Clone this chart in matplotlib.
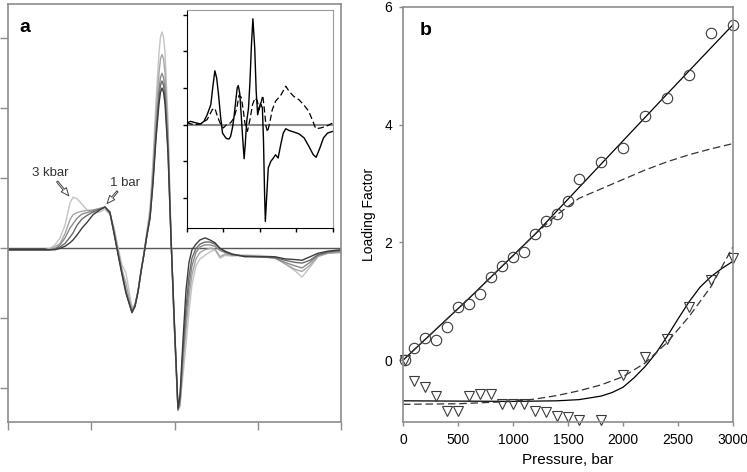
import numpy as np
import matplotlib
matplotlib.use("Agg")
import matplotlib.pyplot as plt

plt.rcParams['font.family'] = ['Liberation Sans', 'DejaVu Sans']

# ---- panel a : spectra at 5 pressures (light = 3 kbar, dark = 1 bar)
wl = [0.000, 0.264, 0.444, 0.505, 0.565, 0.625, 0.685, 0.745, 0.781, 0.829,
      0.889, 0.949, 1.021, 1.105, 1.165, 1.225, 1.273, 1.321, 1.369, 1.417,
      1.453, 1.489, 1.525, 1.562, 1.598, 1.634, 1.670, 1.706, 1.742, 1.778,
      1.814, 1.832, 1.850, 1.868, 1.886, 1.922, 1.958, 1.994, 2.042, 2.066,
      2.102, 2.138, 2.174, 2.210, 2.258, 2.306, 2.366, 2.426, 2.486, 2.547,
      2.607, 2.691, 2.847, 3.027, 3.207, 3.327, 3.447, 3.532, 3.628, 3.724,
      3.844, 4.000]

spec_3kbar = [-0.02, -0.02, -0.02, 0.00, 0.05, 0.15, 0.33, 0.65, 0.73, 0.71,
              0.63, 0.55, 0.51, 0.52, 0.56, 0.48, 0.30, 0.02, -0.24, -0.35,
              -0.60, -0.84, -0.80, -0.60, -0.32, -0.06, 0.26, 0.57, 1.26, 2.11,
              2.80, 3.02, 3.09, 3.02, 2.80, 1.83, 0.19, -1.05, -2.31, -2.24,
              -1.81, -1.38, -0.91, -0.52, -0.25, -0.15, -0.10, -0.05, -0.02, -0.14,
              -0.10, -0.11, -0.10, -0.10, -0.12, -0.22, -0.32, -0.41, -0.27, -0.12,
              -0.07, -0.05]
spec_2 = [-0.02, -0.02, -0.02, -0.01, 0.02, 0.07, 0.21, 0.41, 0.48, 0.51,
          0.53, 0.54, 0.55, 0.57, 0.59, 0.50, 0.27, -0.02, -0.30, -0.50,
          -0.70, -0.87, -0.81, -0.61, -0.33, -0.07, 0.23, 0.51, 1.13, 1.90,
          2.51, 2.71, 2.77, 2.71, 2.51, 1.64, 0.17, -1.00, -2.31, -2.25,
          -1.65, -1.15, -0.70, -0.38, -0.15, -0.06, -0.02, 0.00, -0.01, -0.12,
          -0.08, -0.10, -0.10, -0.11, -0.14, -0.22, -0.30, -0.33, -0.24, -0.11,
          -0.07, -0.06]
spec_3 = [-0.02, -0.02, -0.02, -0.02, -0.01, 0.05, 0.15, 0.29, 0.35, 0.43,
          0.49, 0.51, 0.54, 0.57, 0.59, 0.50, 0.24, -0.05, -0.34, -0.60,
          -0.75, -0.89, -0.82, -0.62, -0.33, -0.07, 0.21, 0.46, 1.01, 1.71,
          2.27, 2.44, 2.50, 2.44, 2.27, 1.49, 0.16, -0.98, -2.31, -2.20,
          -1.55, -1.00, -0.55, -0.25, -0.06, 0.02, 0.05, 0.05, 0.03, -0.03,
          -0.06, -0.09, -0.11, -0.12, -0.14, -0.20, -0.25, -0.28, -0.20, -0.10,
          -0.06, -0.04]
spec_4 = [-0.02, -0.02, -0.02, -0.02, -0.01, 0.02, 0.07, 0.16, 0.22, 0.33,
          0.42, 0.47, 0.52, 0.56, 0.59, 0.50, 0.22, -0.07, -0.36, -0.63,
          -0.77, -0.91, -0.83, -0.62, -0.33, -0.08, 0.20, 0.44, 0.97, 1.63,
          2.17, 2.33, 2.39, 2.33, 2.17, 1.41, 0.14, -0.95, -2.30, -2.15,
          -1.45, -0.85, -0.40, -0.14, 0.00, 0.06, 0.09, 0.09, 0.06, 0.00,
          -0.05, -0.09, -0.11, -0.12, -0.13, -0.17, -0.20, -0.21, -0.17, -0.09,
          -0.05, -0.03]
spec_1bar = [-0.02, -0.02, -0.02, -0.02, -0.02, 0.00, 0.03, 0.08, 0.12, 0.19,
             0.29, 0.37, 0.48, 0.55, 0.59, 0.52, 0.22, -0.08, -0.37, -0.64,
             -0.78, -0.92, -0.83, -0.62, -0.33, -0.08, 0.19, 0.43, 0.93, 1.57,
             2.07, 2.23, 2.29, 2.23, 2.07, 1.36, 0.14, -0.92, -2.28, -2.10,
             -1.31, -0.60, -0.20, -0.02, 0.06, 0.12, 0.15, 0.12, 0.08, 0.00,
             -0.04, -0.08, -0.12, -0.12, -0.12, -0.15, -0.16, -0.17, -0.12, -0.07,
             -0.04, -0.02]
spec_greys = ['#c4c4c4', '#a6a6a6', '#8a8a8a', '#6a6a6a', '#3c3c3c']

# inset: two component spectra
ins_x1 = [0.00, 0.11, 0.25, 0.38, 0.47, 0.56, 0.66, 0.71, 0.77, 0.82, 0.87, 0.93,
          0.98, 1.04, 1.09, 1.16, 1.20, 1.25, 1.29, 1.34, 1.38, 1.41, 1.45, 1.49,
          1.53, 1.57, 1.60, 1.64, 1.69, 1.73, 1.77, 1.81, 1.86, 1.90, 1.94, 1.98,
          2.02, 2.07, 2.10, 2.13, 2.15, 2.19, 2.23, 2.30, 2.37, 2.43, 2.50, 2.57,
          2.64, 2.71, 2.80, 2.93, 3.07, 3.21, 3.34, 3.46, 3.54, 3.64, 3.74, 3.85, 4.00]
ins_y1 = [0.05, 0.09, 0.05, 0.02, 0.09, 0.27, 0.55, 1.00, 1.47, 1.27, 0.82, 0.18,
          -0.23, -0.32, -0.38, -0.39, -0.32, -0.09, 0.18, 0.64, 1.00, 1.07, 0.86, 0.27,
          -0.36, -0.93, -0.55, 0.09, 0.45, 1.18, 2.18, 2.89, 2.09, 0.91, 0.27, 0.45,
          0.59, 0.45, -0.45, -1.91, -2.64, -1.91, -1.18, -1.00, -0.91, -0.82, -0.91, -0.55,
          -0.23, -0.11, -0.16, -0.20, -0.25, -0.36, -0.59, -0.82, -0.89, -0.64, -0.36, -0.23, -0.18]
ins_x2 = [0.00, 0.20, 0.38, 0.56, 0.70, 0.77, 0.84, 0.91, 1.00, 1.09, 1.20, 1.29,
          1.37, 1.43, 1.49, 1.54, 1.59, 1.66, 1.73, 1.80, 1.87, 1.93, 1.98, 2.02,
          2.08, 2.12, 2.17, 2.21, 2.27, 2.34, 2.43, 2.57, 2.71, 2.80, 2.93, 3.07,
          3.21, 3.34, 3.43, 3.53, 3.66, 3.80, 3.94, 4.00]
ins_y2 = [0.05, 0.00, 0.02, 0.14, 0.41, 0.45, 0.23, 0.05, -0.09, 0.00, 0.05, 0.18,
          0.45, 0.80, 0.75, 0.45, 0.05, -0.18, 0.14, 0.55, 0.73, 0.65, 0.41, 0.55,
          0.80, 0.45, -0.05, -0.20, 0.05, 0.41, 0.64, 0.80, 1.05, 0.91, 0.77, 0.68,
          0.53, 0.36, 0.14, -0.11, -0.09, -0.05, 0.02, 0.05]

# ---- panel b : loading factors vs pressure
p_circ = [20, 100, 200, 300, 400, 500, 600, 700, 800, 900, 1000, 1100, 1200,
          1300, 1400, 1500, 1600, 1800, 2000, 2200, 2400, 2600, 2800, 3000]
load_circ = [0.00, 0.20, 0.37, 0.35, 0.56, 0.91, 0.96, 1.13, 1.42, 1.60, 1.75, 1.83,
             2.14, 2.36, 2.49, 2.71, 3.07, 3.36, 3.60, 4.14, 4.46, 4.84, 5.56, 5.70]
p_tri = [20, 100, 200, 300, 400, 500, 600, 700, 800, 900, 1000, 1100, 1200,
         1300, 1400, 1500, 1600, 1800, 2000, 2200, 2400, 2600, 2800, 3000]
load_tri = [0.00, -0.36, -0.45, -0.61, -0.87, -0.87, -0.60, -0.57, -0.57, -0.74, -0.74, -0.74,
            -0.87, -0.88, -0.95, -0.97, -1.01, -1.01, -0.26, 0.05, 0.36, 0.91, 1.37, 1.73]

fit_circ_p = [0, 600, 1200, 1800, 2400, 3000]
fit_circ = [0.00, 1.05, 2.14, 3.33, 4.52, 5.70]
dash_circ_p = [0, 600, 1200, 1400, 1600, 1800, 2000, 2200, 2400, 2600, 2800, 3000]
dash_circ = [0.00, 1.05, 2.14, 2.47, 2.75, 2.91, 3.07, 3.23, 3.37, 3.49, 3.59, 3.68]

fit_tri_p = [0, 1000, 1400, 1600, 1800, 1900, 2000, 2100, 2200, 2300, 2400, 2500,
             2600, 2700, 2800, 2900, 3000]
fit_tri = [-0.69, -0.70, -0.69, -0.67, -0.61, -0.55, -0.46, -0.30, -0.11, 0.12, 0.40, 0.70,
           0.99, 1.24, 1.42, 1.56, 1.68]
dash_tri_p = [0, 500, 1000, 1200, 1400, 1600, 1800, 2000, 2200, 2400, 2600, 2800, 3000]
dash_tri = [-0.75, -0.74, -0.70, -0.66, -0.60, -0.52, -0.42, -0.28, -0.05, 0.30, 0.74, 1.25, 1.93]

W, H = 747, 472
fig = plt.figure(figsize=(W / 100, H / 100), dpi=100)

def box(l, t, r, b):
    return [l / W, 1 - b / H, (r - l) / W, (b - t) / H]

spine_grey = '#8c8c8c'

# main panel a
ax = fig.add_axes(box(8, 4, 341, 422))
for y, c in zip([spec_3kbar, spec_2, spec_3, spec_4, spec_1bar], spec_greys):
    ax.plot(wl, y, color=c, lw=1.0)
ax.axhline(0, color='#555555', lw=1.0, zorder=0.5)
ax.set_xlim(0, 4)
ax.set_ylim(-2.48, 3.49)
ax.set_xticks([0, 1, 2, 3, 4])
ax.set_yticks([-2, -1, 0, 1, 2, 3])
ax.set_xticklabels([])
ax.set_yticklabels([])
ax.tick_params(direction='out', length=6, width=1, color=spine_grey)
for s in ax.spines.values():
    s.set_color(spine_grey)
    s.set_linewidth(1.2)
ax.text(0.035, 0.965, 'a', transform=ax.transAxes, fontsize=14, fontweight='bold',
        ha='left', va='top')
arrow = dict(arrowstyle='simple,head_length=0.6,head_width=0.5,tail_width=0.12',
             fc='white', ec='#444444', lw=0.7, shrinkA=0, shrinkB=0)
ax.annotate('3 kbar', xy=(0.73, 0.75), xytext=(0.505, 1.08), fontsize=9.5,
            color='#333333', ha='center', va='center', arrowprops=arrow)
ax.annotate('1 bar', xy=(1.19, 0.64), xytext=(1.405, 0.94), fontsize=9.5,
            color='#333333', ha='center', va='center', arrowprops=arrow)

# inset
ins = fig.add_axes(box(186.7, 10, 333, 228))
ins.plot(ins_x1, ins_y1, color='black', lw=1.0)
ins.plot(ins_x2, ins_y2, color='black', lw=0.9, dashes=(5, 2.5))
ins.axhline(0, color='#8a8a8a', lw=1.5, zorder=0.5)
ins.set_xlim(0, 4)
ins.set_ylim(-2.82, 3.13)
ins.set_xticks([0, 1, 2, 3, 4])
ins.set_yticks([-2, -1, 0, 1, 2, 3])
ins.set_xticklabels([])
ins.set_yticklabels([])
ins.tick_params(direction='out', length=3, width=1)
ins.spines['left'].set_color('black')
ins.spines['bottom'].set_color('black')
ins.spines['top'].set_color('#9a9a9a')
ins.spines['right'].set_color('#9a9a9a')

# panel b
bx = fig.add_axes(box(403, 7, 733, 422))
bx.plot(fit_circ_p, fit_circ, color='black', lw=0.9)
bx.plot(dash_circ_p, dash_circ, color='#333333', lw=0.9, dashes=(6, 3))
bx.plot(fit_tri_p, fit_tri, color='black', lw=0.9)
bx.plot(dash_tri_p, dash_tri, color='#333333', lw=0.9, dashes=(6, 3))
bx.plot(p_circ, load_circ, 'o', ms=7.5, mfc='none', mec='#3a3a3a', mew=0.8, clip_on=False)
bx.plot(p_tri, load_tri, 'v', ms=7.5, mfc='none', mec='#3a3a3a', mew=0.8, clip_on=False)
bx.set_xlim(0, 3000)
bx.set_ylim(-1.05, 6.0)
bx.set_xticks(np.arange(0, 3001, 500))
bx.set_yticks([0, 2, 4, 6])
bx.tick_params(direction='out', length=3, width=1, color=spine_grey, labelsize=10, pad=5)
for s in bx.spines.values():
    s.set_color(spine_grey)
    s.set_linewidth(1.2)
bx.set_xlabel('Pressure, bar', fontsize=11, labelpad=4)
bx.set_ylabel('Loading Factor', fontsize=10, labelpad=6)
bx.text(0.05, 0.965, 'b', transform=bx.transAxes, fontsize=14, fontweight='bold',
        ha='left', va='top')

fig.savefig('out.png', dpi=100)
